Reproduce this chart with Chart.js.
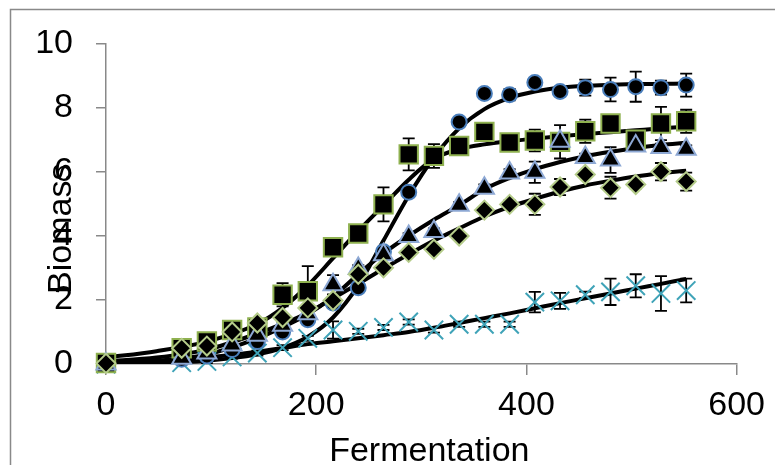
<!DOCTYPE html>
<html>
<head>
<meta charset="utf-8">
<script src="https://cdn.jsdelivr.net/npm/chart.js@4.4.0/dist/chart.umd.min.js"></script>
<style>
  html, body { margin: 0; padding: 0; background: #fff; }
  #wrap { width: 775px; height: 465px; }
</style>
</head>
<body>
<div id="wrap"><canvas id="chart" width="775" height="465"></canvas></div>
<script>
// sampling times (measured points, all series)
const sampleX = [0, 72, 96, 120, 144, 168, 192, 216, 240, 264, 288, 312, 336, 360, 384, 408, 432, 456, 480, 504, 528, 552];

// measured biomass per series
const circleY   = [0.03, 0.15, 0.25, 0.45, 0.70, 1.00, 1.38, 1.90, 2.38, 3.50, 5.36, 6.50, 7.55, 8.44, 8.40, 8.78, 8.50, 8.62, 8.56, 8.65, 8.62, 8.70];
const squareY   = [0.03, 0.49, 0.70, 1.06, 1.14, 2.16, 2.27, 3.64, 4.07, 4.98, 6.54, 6.49, 6.80, 7.24, 6.91, 6.97, 6.93, 7.26, 7.50, 7.00, 7.50, 7.57];
const triangleY = [0.00, 0.18, 0.34, 0.59, 0.90, 1.21, 1.57, 2.47, 2.98, 3.41, 3.98, 4.13, 4.95, 5.48, 5.96, 5.98, 6.95, 6.44, 6.36, 6.80, 6.75, 6.70];
const diamondY  = [0.02, 0.49, 0.56, 1.00, 1.28, 1.45, 1.75, 1.98, 2.80, 3.00, 3.48, 3.58, 3.99, 4.80, 4.98, 4.98, 5.52, 5.91, 5.50, 5.60, 6.00, 5.69];
const crossY    = [0.00, 0.04, 0.08, 0.22, 0.34, 0.51, 0.80, 1.06, 1.02, 1.14, 1.31, 1.06, 1.24, 1.24, 1.24, 1.93, 1.97, 2.16, 2.25, 2.44, 2.20, 2.29];

// error bar half-lengths
const circleErr   = [0, 0.05, 0.05, 0.05, 0.08, 0.10, 0.10, 0.10, 0.10, 0.10, 0.10, 0.10, 0.10, 0.12, 0.18, 0.12, 0.08, 0.25, 0.37, 0.47, 0.22, 0.36];
const squareErr   = [0, 0.05, 0.05, 0.05, 0.10, 0.36, 0.78, 0.10, 0.10, 0.53, 0.50, 0.37, 0.12, 0.12, 0.12, 0.34, 0.52, 0.36, 0.12, 0.15, 0.52, 0.36];
const triangleErr = [0, 0.05, 0.05, 0.05, 0.08, 0.10, 0.10, 0.30, 0.10, 0.10, 0.10, 0.10, 0.10, 0.12, 0.12, 0.33, 0.12, 0.12, 0.40, 0.12, 0.12, 0.12];
const diamondErr  = [0, 0.05, 0.05, 0.05, 0.08, 0.10, 0.10, 0.10, 0.10, 0.10, 0.10, 0.10, 0.10, 0.10, 0.12, 0.33, 0.25, 0.10, 0.34, 0.12, 0.27, 0.28];
const crossErr    = [0, 0.05, 0.05, 0.05, 0.08, 0.08, 0.08, 0.27, 0.08, 0.08, 0.08, 0.08, 0.08, 0.08, 0.08, 0.32, 0.25, 0.10, 0.41, 0.36, 0.54, 0.37];

// fitted curves
const curveX      = [0, 48, 96, 144, 168, 192, 216, 240, 264, 288, 312, 336, 360, 384, 408, 432, 456, 480, 504, 528, 552];
const fitCircle   = [0.02, 0.04, 0.10, 0.30, 0.50, 0.85, 1.45, 2.45, 3.85, 5.25, 6.45, 7.35, 7.95, 8.30, 8.50, 8.62, 8.68, 8.71, 8.73, 8.74, 8.75];
const fitSquare   = [0.20, 0.40, 0.70, 1.25, 1.75, 2.45, 3.30, 4.15, 4.95, 5.75, 6.40, 6.70, 6.85, 6.95, 7.03, 7.10, 7.17, 7.23, 7.29, 7.35, 7.40];
const fitTriangle = [0.03, 0.10, 0.30, 0.80, 1.15, 1.55, 2.10, 2.80, 3.45, 4.00, 4.50, 4.95, 5.45, 5.80, 6.08, 6.30, 6.48, 6.62, 6.74, 6.83, 6.90];
const fitDiamond  = [0.08, 0.20, 0.45, 0.95, 1.25, 1.60, 2.05, 2.50, 2.97, 3.42, 3.85, 4.23, 4.60, 4.90, 5.15, 5.38, 5.57, 5.72, 5.85, 5.95, 6.03];
const fitCross    = [0.02, 0.08, 0.20, 0.38, 0.50, 0.62, 0.71, 0.80, 0.90, 1.00, 1.13, 1.28, 1.43, 1.58, 1.74, 1.90, 2.05, 2.20, 2.35, 2.50, 2.65];

const xTicks = [0, 200, 400, 600];
const yTicks = [0, 2, 4, 6, 8, 10];

const FONT = "'Liberation Sans', Arial, sans-serif";
const AXIS_GRAY = '#898989';

function pts(xs, ys) { return xs.map((x, i) => ({ x: x, y: ys[i] })); }

function markerSet(ys, style, radius, border, order) {
  return {
    data: pts(sampleX, ys),
    showLine: false,
    clip: false,
    pointStyle: style,
    pointRadius: radius,
    pointBackgroundColor: '#000',
    pointBorderColor: border,
    pointBorderWidth: 2,
    order: order,
  };
}

function fitSet(ys) {
  return {
    data: pts(curveX, ys),
    showLine: true,
    borderColor: '#000',
    borderWidth: 4,
    pointRadius: 0,
    cubicInterpolationMode: 'monotone',
    order: 10,
  };
}

// vertical error bars with caps, under the markers
const errorBars = {
  id: 'errorBars',
  beforeDatasetsDraw(chart) {
    const { ctx, scales: { x, y } } = chart;
    const groups = [
      [circleY, circleErr], [squareY, squareErr], [triangleY, triangleErr],
      [diamondY, diamondErr], [crossY, crossErr],
    ];
    ctx.save();
    ctx.strokeStyle = '#000';
    ctx.lineWidth = 1.8;
    groups.forEach(([ys, es]) => {
      sampleX.forEach((xv, i) => {
        if (!es[i]) return;
        const px = x.getPixelForValue(xv);
        const top = y.getPixelForValue(ys[i] + es[i]);
        const bot = y.getPixelForValue(ys[i] - es[i]);
        ctx.beginPath();
        ctx.moveTo(px, top); ctx.lineTo(px, bot);
        ctx.moveTo(px - 6, top); ctx.lineTo(px + 6, top);
        ctx.moveTo(px - 6, bot); ctx.lineTo(px + 6, bot);
        ctx.stroke();
      });
    });
    ctx.restore();
  },
};

// outer frame + axis titles
const frameAndTitles = {
  id: 'frameAndTitles',
  beforeDraw(chart) {
    const ctx = chart.ctx;
    ctx.save();
    ctx.fillStyle = '#fff';
    ctx.fillRect(0, 0, chart.width, chart.height);
    ctx.strokeStyle = AXIS_GRAY;
    ctx.lineWidth = 1.5;
    ctx.beginPath();
    ctx.moveTo(10.5, chart.height + 5);
    ctx.lineTo(10.5, 9.5);
    ctx.lineTo(chart.width + 5, 9.5);
    ctx.stroke();
    ctx.restore();
  },
  afterDraw(chart) {
    const { ctx, chartArea: a } = chart;
    ctx.save();
    ctx.fillStyle = '#000';
    ctx.font = '34px ' + FONT;
    ctx.textAlign = 'center';
    ctx.textBaseline = 'alphabetic';
    ctx.fillText('Fermentation', (a.left + a.right) / 2 + 8, a.bottom + 97);
    ctx.translate(a.left - 35, (a.top + a.bottom) / 2 + 25);
    ctx.rotate(-Math.PI / 2);
    ctx.fillText('Biomass', 0, 0);
    ctx.restore();
  },
};

const axisCommon = {
  type: 'linear',
  border: { display: true, color: AXIS_GRAY, width: 1.5 },
  grid: { display: true, drawOnChartArea: false, drawTicks: true, color: AXIS_GRAY, lineWidth: 1.5 },
};

new Chart(document.getElementById('chart'), {
  type: 'scatter',
  data: {
    datasets: [
      markerSet(diamondY,  'rectRot',  9.5, '#b5cc8a', 0),
      markerSet(triangleY, 'triangle', 11,  '#8da8d4', 1),
      markerSet(squareY,   'rect',     13,  '#8fb150', 2),
      markerSet(circleY,   'circle',   7.5, '#4a7ebb', 3),
      markerSet(crossY,    'crossRot', 13,  '#3fa3b8', 4),
      fitSet(fitCircle),
      fitSet(fitSquare),
      fitSet(fitTriangle),
      fitSet(fitDiamond),
      fitSet(fitCross),
    ],
  },
  options: {
    responsive: false,
    animation: false,
    layout: { padding: { left: 0, top: 39, right: 36, bottom: 0 } },
    plugins: { legend: { display: false }, tooltip: { enabled: false } },
    scales: {
      x: {
        ...axisCommon,
        min: 0, max: 600,
        grid: { ...axisCommon.grid, tickLength: 11 },
        afterBuildTicks: (s) => { s.ticks = xTicks.map(v => ({ value: v })); },
        afterFit: (s) => { s.height = 101; },
        ticks: { color: '#000', padding: 10, maxRotation: 0, font: { family: FONT, size: 34 } },
      },
      y: {
        ...axisCommon,
        min: 0, max: 10,
        grid: { ...axisCommon.grid, tickLength: 10 },
        afterBuildTicks: (s) => { s.ticks = yTicks.map(v => ({ value: v })); },
        afterFit: (s) => { s.width = 106; },
        ticks: { color: '#000', padding: 23, font: { family: FONT, size: 34 } },
      },
    },
  },
  plugins: [frameAndTitles, errorBars],
});
</script>
</body>
</html>
